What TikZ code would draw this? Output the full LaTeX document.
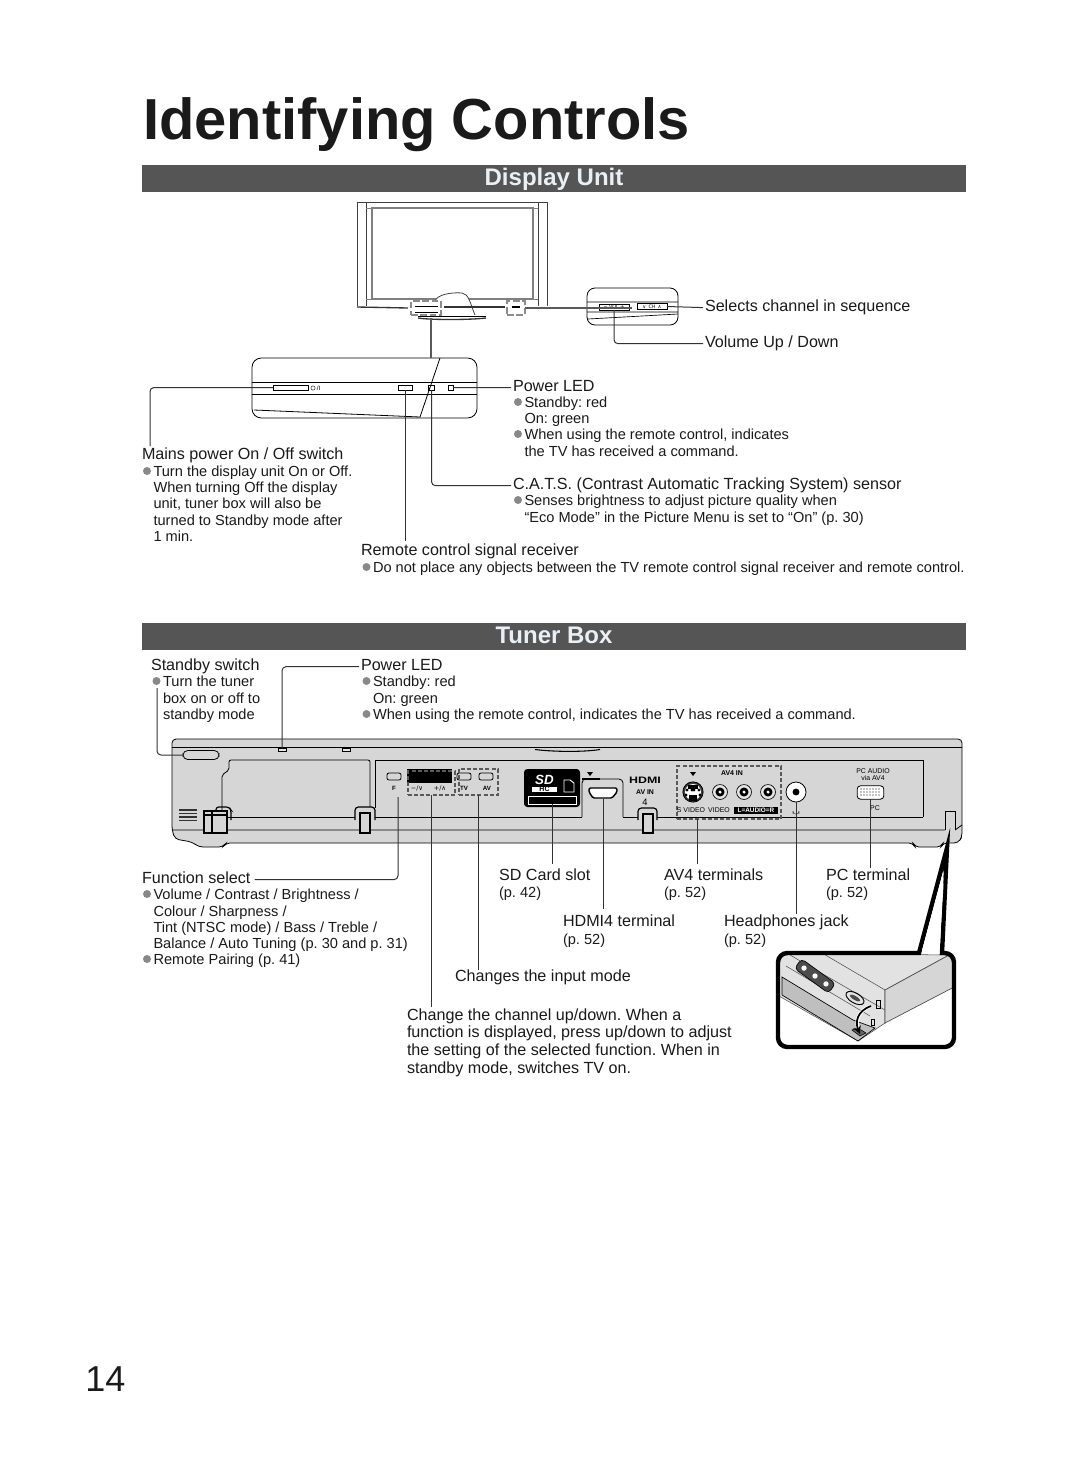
\documentclass[tikz,border=0pt]{standalone}
\usepackage{graphicx}
\usepackage{fontspec}
\setmainfont{Liberation Sans}
\newfontfamily\symfont{DejaVu Sans}
\usetikzlibrary{arrows.meta}
\definecolor{band}{HTML}{555555}
\definecolor{bandtxt}{HTML}{E8F0F6}
\definecolor{bulc}{HTML}{888888}
\definecolor{txt}{HTML}{1A1A1A}
\definecolor{linec}{HTML}{333333}
\definecolor{bodyc}{HTML}{D6D6D6}
\tikzset{
  lb/.style={anchor=base west,inner sep=0pt,outer sep=0pt,text=txt,text height=.75em,text depth=.25em,font=\fontsize{12.1}{14}\selectfont},
  sm/.style={anchor=base west,inner sep=0pt,outer sep=0pt,text=txt,font=\fontsize{10.95}{13}\selectfont},
  tiny/.style={inner sep=0pt,outer sep=0pt,text=black,font=\fontsize{4.6}{5}\selectfont},
  con/.style={draw=linec,line width=.75pt,rounded corners=3pt},
  part/.style={draw=black,line width=.6pt},
  clip part/.style={draw=black,line width=.9pt},
  ctl/.style={draw=black,line width=.6pt,inner sep=0pt,outer sep=0pt},
  dbox/.style={draw=black!65,line width=.9pt,dash pattern=on 3pt off 1.6pt,inner sep=0pt,outer sep=0pt},
  hl/.style={draw=black!45,line width=2pt,dash pattern=on 5pt off 2pt,inner sep=0pt,outer sep=0pt},
  heavy/.style={draw=black!65,line width=1.5pt},
  bandbox/.style={fill=band,draw=none,inner sep=0pt,outer sep=0pt,minimum width=618pt,minimum height=20.25pt},
  bandlab/.style={anchor=base,text=bandtxt,inner sep=0pt,font=\fontsize{18}{20}\selectfont\bfseries},
}
\newcommand\bu[2]{\fill[bulc] (#1-6.5,#2-5) circle (3pt);}
\newcommand\rca[2]{\filldraw[fill=white!90!black,draw=black,line width=.5pt] (#1,#2) circle (5.6pt);\filldraw[fill=black,draw=none] (#1,#2) circle (3.4pt);\fill[white] (#1,#2) circle (1.3pt);}
\begin{document}
\frenchspacing
\begin{tikzpicture}[x=0.75pt,y=-0.75pt]
\useasboundingbox (0,0) rectangle (1080,1478);
\fill[white] (0,0) rectangle (1080,1478);

\node[anchor=base west,inner sep=0pt,text=txt,font=\fontsize{43.4}{48}\selectfont\bfseries] (title) at (143,139) {Identifying Controls};
\node[bandbox] (band1) at (554,178.5) {};
\node[bandlab] (band1t) at (554,185.5) {Display Unit};
\node[bandbox] (band2) at (554,636.5) {};
\node[bandlab] (band2t) at (554,643.5) {Tuner Box};

% ---------- TV
\draw[part,draw=black!75] (357,306) -- (357,202) -- (547,202) -- (547,306);
\draw[part,draw=black!75] (366,306) -- (366,202) (538,306) -- (538,202);
\draw[draw=black!50,line width=.6pt] (366,208) -- (538,208);
\draw[draw=black!50,line width=1.4pt] (372,208) rectangle (533,299);
\draw[draw=black!50,line width=.5pt] (366,299) -- (538,299);
\draw[part,draw=black!75,fill=white] (435,301) .. controls (437,295) and (450,292) .. (462,293) .. controls (469,294) and (470,303) .. (475,315);
\draw[draw=black!80,line width=1pt] (357,307) -- (408,308);
\draw[draw=black!80,line width=1pt] (444,307) -- (505,307);
\draw[draw=black!80,line width=1pt,fill=white] (418,318) .. controls (430,320) and (470,320) .. (486,318);
\draw[draw=black,line width=.6pt] (418,316) -- (486,316);
\draw[draw=black,line width=.7pt] (415,306) -- (438,306) (415,312) -- (438,312);
\draw[draw=black,line width=1.5pt] (512,307) -- (520,307);
\node[hl,minimum width=22.5pt,minimum height=10.5pt] (hlleft) at (426,308) {};
\node[hl,minimum width=13.5pt,minimum height=10.5pt] (hlright) at (516,308) {};

% ---------- TV side zoom
\node[part,rounded corners=6pt,inner sep=0pt,outer sep=0pt,minimum width=68.25pt,minimum height=27.75pt] (sidebox) at (632.5,306.5) {};
\draw[draw=black,line width=.5pt] (587,302) -- (678,302) (587,312) -- (678,312) (588,319) -- (678,314);
\node[ctl,minimum width=22.5pt,minimum height=4.5pt] (volbox) at (614,307) {};
\node[ctl,minimum width=22.5pt,minimum height=4.5pt] (chbox) at (652,306.5) {};
\node[tiny,font=\fontsize{3.6}{4}\selectfont\symfont] (voltxt) at (614,307) {−\,\,VOL\,\,+};
\node[tiny,font=\fontsize{3.6}{4}\selectfont\symfont] (chtxt) at (652,306.5) {∨\,\,\,CH\,\,\,∧};
\draw[heavy] (hlright.east) -- (632,308);

% ---------- lower zoom
\node[part,rounded corners=7pt,inner sep=0pt,outer sep=0pt,minimum width=168.75pt,minimum height=45pt] (frontbox) at (364.5,388) {};
\draw[draw=black,line width=.5pt] (252,382) -- (477,382) (252,394) -- (477,394);
\draw[draw=black,line width=.6pt] (254,410) -- (420,417) -- (440,358);
\node[ctl,minimum width=26.25pt,minimum height=3.75pt] (pwrbtn) at (290.5,387.5) {};
\draw[black,line width=.3pt] (313,388) circle (1.6pt);
\node[tiny] (pwrtxt) at (318.5,388) {/I};
\node[ctl,minimum width=10.5pt,minimum height=3.75pt] (rcbox) at (405,387.5) {};
\node[ctl,minimum width=4.5pt,minimum height=3.75pt] (catsbox) at (431.5,387.5) {};
\node[ctl,minimum width=3.75pt,minimum height=3.75pt] (ledbox) at (450.5,387.5) {};
\draw[heavy] (431,318) -- (431,358);

% ---------- labels of the display unit
\node[lb] (lsel) at (705,311) {Selects channel in sequence};
\node[lb] (lvol) at (705,347) {Volume Up / Down};
\node[lb] (lled) at (513,391) {Power LED};
\bu{524.5}{407}
\node[sm] (s1) at (524.5,407) {Standby: red};
\node[sm] (s2) at (524.5,423) {On: green};
\bu{524.5}{439}
\node[sm] (s3) at (524.5,439) {When using the remote control, indicates};
\node[sm] (s4) at (524.5,456) {the TV has received a command.};
\node[lb] (lmains) at (142,459) {Mains power On / Off switch};
\bu{153.5}{476}
\node[sm] (m1) at (153.5,476) {Turn the display unit On or Off.};
\node[sm] (m2) at (153.5,492) {When turning Off the display};
\node[sm] (m3) at (153.5,508) {unit, tuner box will also be};
\node[sm] (m4) at (153.5,525) {turned to Standby mode after};
\node[sm] (m5) at (153.5,541) {1 min.};
\node[lb] (lcats) at (513,489) {C.A.T.S. (Contrast Automatic Tracking System) sensor};
\bu{524.5}{505}
\node[sm] (c1) at (524.5,505) {Senses brightness to adjust picture quality when};
\node[sm] (c2) at (524.5,522) {“Eco Mode” in the Picture Menu is set to “On” (p. 30)};
\node[lb] (lrc) at (361,555) {Remote control signal receiver};
\bu{373}{572}
\node[sm] (r1) at (373,572) {Do not place any objects between the TV remote control signal receiver and remote control.};

\draw[con,shorten >=1.5pt] (chbox.east) -- (lsel.west);
\draw[con,shorten >=1.5pt] (volbox.south) |- (lvol.west);
\draw[con,shorten >=1.5pt] (ledbox.east) -- (lled.west);
\draw[con,shorten >=1.5pt] (catsbox.south) |- (lcats.west);
\draw[con,shorten >=3pt] (rcbox.south) -- (rcbox.south |- lrc.north);
\coordinate (mainsup) at (150,446);
\draw[con] (pwrbtn.west) -| (mainsup);

% ---------- tuner box
\draw[part,fill=bodyc,rounded corners=3pt] (172,830) -- (172,739) -- (962,739) -- (962,837) -- (958,843) -- (943,843) -- (941,847) -- (915,847) -- (913,843) -- (226,843) -- (223,847) -- (199,847) -- (192,842) -- (175,839) -- cycle;
\draw[part] (172,747) -- (962,747);
\draw[part] (172,830) -- (945,830) (955,830) -- (962,825);
\draw[part] (945,830) -- (945,811) -- (955,811) -- (955,830);
\draw[part] (225,817) -- (355,817) (375,817) -- (582,817) (623,817) -- (638,817) (657,817) -- (923,817);
\draw[part,rounded corners=1.5pt] (222,817) -- (222,775) -- (229,770) -- (229,760) -- (370,760) -- (370,808);
\draw[part] (375,808) -- (375,760) -- (923,760) -- (923,817);
\node[part,fill=bodyc,rounded corners=3.5pt,inner sep=0pt,outer sep=0pt,minimum width=27pt,minimum height=6.75pt] (stbybtn) at (201,755) {};
\node[ctl,minimum width=6pt,minimum height=2.25pt,fill=bodyc!60] (tled) at (282,750) {};
\node[ctl,minimum width=6pt,minimum height=2.25pt,fill=bodyc!60] (tsens) at (346,750) {};
\draw[part,line width=.8pt] (535,749.5) .. controls (555,752) and (585,752) .. (600,749.5);
\foreach \v in {810,813.5,817,820.5} \draw[line width=.8pt,black!80] (179,\v) -- (197,\v);
% clips
\draw[clip part,rounded corners=2pt] (216,810) -- (216,807) -- (229,807) -- (231,810) -- (231,820);
\draw[clip part,fill=bodyc] (204,811) rectangle (227,833);
\draw[clip part] (212,811) -- (212,833);
\draw[clip part] (204,815) -- (227,815);
\draw[clip part,fill=bodyc,rounded corners=2.5pt] (355,820) -- (355,807) -- (375,807) -- (375,820);
\draw[clip part,fill=bodyc] (360,813) rectangle (370,833);
\draw[clip part,fill=bodyc,rounded corners=2.5pt] (638,820) -- (638,808) -- (657,808) -- (657,820);
\draw[clip part,fill=bodyc] (643,814) rectangle (653,833);
% buttons
\node[ctl,rounded corners=1.5pt,minimum width=10.5pt,minimum height=5.25pt] (fbtn) at (394,776.5) {};
\node[fill=black,inner sep=0pt,outer sep=0pt,minimum width=33.75pt,minimum height=10.5pt] (disp) at (429.5,776) {};
\node[ctl,rounded corners=1.5pt,minimum width=10.5pt,minimum height=5.25pt] (tvbtn) at (464,776.5) {};
\node[ctl,rounded corners=1.5pt,minimum width=10.5pt,minimum height=5.25pt] (avbtn) at (486,776.5) {};
\node[tiny,font=\fontsize{4.6}{5}\selectfont\bfseries] (ftxt) at (394,788) {F};
\node[tiny,font=\fontsize{4.8}{5}\selectfont\symfont] (mintxt) at (417,788.5) {−/∨};
\node[tiny,font=\fontsize{4.8}{5}\selectfont\symfont] (plustxt) at (440,788.5) {+/∧};
\node[tiny,font=\fontsize{4.6}{5}\selectfont\bfseries] (tvtxt) at (464,788.5) {TV};
\node[tiny,font=\fontsize{4.6}{5}\selectfont\bfseries] (avtxt) at (487,788.5) {AV};
\node[dbox,minimum width=35.25pt,minimum height=18pt] (dash1) at (431.5,783) {};
\node[dbox,minimum width=29.25pt,minimum height=19.5pt] (dash2) at (478.5,782) {};
% SD
\node[fill=black,rounded corners=2.5pt,inner sep=0pt,outer sep=0pt,minimum width=42pt,minimum height=28.5pt] (sdbox) at (552,788) {};
\node[inner sep=0pt,text=white,font=\fontsize{10}{10}\selectfont\bfseries\itshape] (sdlogo) at (544.5,780) {SD};
\node[fill=white,inner sep=0pt,outer sep=0pt,text=black,minimum width=19pt,minimum height=4.2pt,font=\fontsize{5.2}{5}\selectfont\bfseries] (hclogo) at (544.5,789.5) {HC};
\draw[white,line width=.7pt] (564,780) -- (564,792) -- (574,792) -- (574,783) -- (570,780) -- cycle;
\node[draw=white,line width=.7pt,fill=black,inner sep=0pt,outer sep=0pt,minimum width=36pt,minimum height=5.6pt] (sdslot) at (552,800.5) {};
% HDMI
\draw[part,fill=bodyc,rounded corners=3pt] (582,817) -- (582,779) -- (623,779) -- (623,817);
\draw[black,line width=1.2pt] (582,779) -- (600,779);
\fill[black] (587,772) -- (593,772) -- (590,776) -- cycle;
\coordinate (hdmip) at (603,799);
\draw[part,line width=1.1pt,fill=white,rounded corners=1pt] (589,788) -- (617,788) -- (617,792) -- (612,798) -- (593,798) -- (589,792) -- cycle;
\node[tiny,font=\fontsize{7}{7}\selectfont\bfseries] (hdmilogo) at (645,780) {\scalebox{1.33}[1]{HDMI}};
\node[tiny,font=\fontsize{5.2}{5}\selectfont\bfseries] (avin) at (645,792) {AV IN};
\node[tiny,font=\fontsize{7}{7}\selectfont] (avfour) at (645,802.5) {4};
% AV4
\node[dbox,minimum width=78pt,minimum height=39.75pt] (avbox) at (729,792.5) {};
\node[tiny,font=\fontsize{5.2}{5}\selectfont\bfseries] (avfourin) at (732,773.5) {AV4 IN};
\fill[black] (690,772) -- (696,772) -- (693,776) -- cycle;
\filldraw[fill=black!75,draw=black,line width=.6pt] (693,792) circle (7.6pt);
\fill[white] (693,792) circle (6pt);
\fill[black] (688,785) rectangle (698,789);
\fill[black] (689,795) rectangle (697,801);
\foreach \a/\b in {687/790,699/790,686/795,700/795,692/790,694/790} \fill[black] (\a,\b) circle (1.2pt);
\rca{720}{792}
\rca{744}{792}
\rca{768}{792}
\node[ctl,circle,fill=white,minimum size=15pt] (hpjack) at (796,792) {};
\fill[black] (796,792) circle (2.6pt);
\node[tiny,font=\fontsize{5.2}{5}\selectfont] (svid) at (691,810.5) {S VIDEO};
\node[tiny,font=\fontsize{5.2}{5}\selectfont] (vid) at (719,810.5) {VIDEO};
\node[tiny,fill=black,text=white,font=\fontsize{4.8}{5}\selectfont\bfseries,minimum width=33pt,minimum height=5.5pt] (aud) at (756,810.5) {L=AUDIO=R};
\draw[black!70,line width=.4pt] (793,811) arc (180:0:3 and 3.2) (793,811) -- (793,813.5) (799,811) -- (799,813.5);
\node[tiny,font=\fontsize{5.2}{5.5}\selectfont,align=center] (pcaudio) at (873,774.5) {PC AUDIO\\via AV4};
\node[part,fill=white,rounded corners=2.5pt,inner sep=0pt,outer sep=0pt,minimum width=20pt,minimum height=10pt] (vga) at (870.5,792.5) {};
\foreach \v in {789,792,795} \foreach \u in {861,864,867,870,873,876,879} \fill[black] (\u,\v) circle (.45pt);
\node[tiny,font=\fontsize{5.2}{5}\selectfont] (pctxt) at (875,808) {PC};

% ---------- labels of the tuner box
\node[lb] (lstby) at (151,670) {Standby switch};
\bu{163}{686}
\node[sm] (t1) at (163,686) {Turn the tuner};
\node[sm] (t2) at (163,703) {box on or off to};
\node[sm] (t3) at (163,719) {standby mode};
\node[lb] (lled2) at (361,670) {Power LED};
\bu{373}{686}
\node[sm] (p1) at (373,686) {Standby: red};
\node[sm] (p2) at (373,703) {On: green};
\bu{373}{719}
\node[sm] (p3) at (373,719) {When using the remote control, indicates the TV has received a command.};
\node[lb] (lfunc) at (142,883) {Function select};
\bu{153.5}{899}
\node[sm] (f1) at (153.5,899) {Volume / Contrast / Brightness /};
\node[sm] (f2) at (153.5,916) {Colour / Sharpness /};
\node[sm] (f3) at (153.5,932) {Tint (NTSC mode) / Bass / Treble /};
\node[sm] (f4) at (153.5,948) {Balance / Auto Tuning (p. 30 and p. 31)};
\bu{153.5}{964}
\node[sm] (f5) at (153.5,964) {Remote Pairing (p. 41)};
\node[lb] (lsd) at (499,880) {SD Card slot};
\node[sm] (lsdp) at (499,897) {(p. 42)};
\node[lb] (lav) at (664,880) {AV4 terminals};
\node[sm] (lavp) at (664,897) {(p. 52)};
\node[lb] (lpc) at (826,880) {PC terminal};
\node[sm] (lpcp) at (826,897) {(p. 52)};
\node[lb] (lhdmi) at (563,926) {HDMI4 terminal};
\node[sm] (lhdmip) at (563,944) {(p. 52)};
\node[lb] (lhp) at (724,926) {Headphones jack};
\node[sm] (lhpp) at (724,944) {(p. 52)};
\node[lb] (linput) at (455,981) {Changes the input mode};
\node[lb] (lch1) at (407,1020) {Change the channel up/down. When a};
\node[lb] (lch2) at (407,1037) {function is displayed, press up/down to adjust};
\node[lb] (lch3) at (407,1055) {the setting of the selected function. When in};
\node[lb] (lch4) at (407,1073) {standby mode, switches TV on.};
\node[anchor=base west,inner sep=0pt,text=txt,font=\fontsize{27}{30}\selectfont] (pageno) at (85,1391) {14};

% ---------- connectors of the tuner box
\coordinate (stbyup) at (157,688);
\draw[con] (stbyup) |- (stbybtn.west);
\draw[con,shorten >=1.5pt] (tled.north) |- (lled2.west);
\coordinate (fp) at (398,797);
\draw[con,shorten >=3pt] (fp) |- (lfunc.east);
\draw[con,shorten >=2pt] (dash1.south) -- (dash1.south |- lch1.north);
\draw[con,shorten >=1pt] (dash2.south) -- (dash2.south |- linput.north);
\draw[con,shorten >=4.5pt] (sdslot.south) -- (sdslot.south |- lsd.north);
\draw[con,shorten >=5pt] (hdmip) -- (hdmip |- lhdmi.north);
\coordinate (avp) at (697,819);
\draw[con,shorten >=4.5pt] (avp) -- (avp |- lav.north);
\draw[con,shorten >=1.5pt] (hpjack.south) -- (hpjack.south |- lhp.north);
\draw[con,shorten >=1.5pt] (vga.south) -- (vga.south |- lpc.north);

% ---------- callout illustration
\begin{scope}
\clip[rounded corners=6pt] (778,953) rectangle (954,1047);
\fill[white] (778,953) rectangle (954,1047);
\filldraw[fill=bodyc!70,draw=black!70,line width=.4pt] (779,953) -- (949,955) -- (885,990) -- (885,1023) -- (858,1041) -- (779,996) -- cycle;
\filldraw[fill=bodyc,draw=black!70,line width=.5pt] (885,990) -- (949,955) -- (956,958) -- (956,986) -- (885,1023) -- cycle;
\filldraw[fill=black!25,draw=black,line width=.5pt] (782,977) -- (782,995) -- (858,1041) -- (875,1028) -- (853,1020) -- cycle;
\draw[black!70,line width=.4pt] (790,955) -- (885,1010) (822,953) -- (885,990) (786,966) -- (870,1016);
\filldraw[fill=black!70,draw=black,line width=.5pt,rounded corners=3pt,rotate around={-36:(815,976)}] (794,970) rectangle (836,982);
\foreach \a in {804,815,826} \fill[white] (\a,{976+(\a-815)*.72}) circle (2pt);
\draw[black,line width=.7pt,rotate around={-30:(855,998)}] (855,998) ellipse (10 and 5);
\fill[black!70,rotate around={-30:(855,998)}] (855,998) ellipse (6 and 2);
\draw[black,line width=.5pt] (876,1000) -- (880,1000) -- (880,1008) -- (876,1008) -- cycle;
\draw[black,line width=.5pt] (871,1019) -- (874,1019) -- (874,1025) -- (871,1025) -- cycle;
\filldraw[fill=black!60,draw=black,line width=.4pt] (852,1030) -- (860,1036) -- (866,1033) -- (858,1028) -- cycle;
\draw[white,line width=2.6pt] (871,1006) .. controls (857,1011) and (855,1022) .. (859,1030);
\draw[black,line width=1.3pt,-{Stealth[length=6pt,width=6pt]}] (871,1006) .. controls (857,1011) and (855,1022) .. (860,1034);
\end{scope}
\coordinate (apex) at (947,848);
\draw[black,line width=3.3pt,line join=miter] (919,953) [rounded corners=7pt] -- (778,953) -- (778,1047) -- (954,1047) -- (954,953) [sharp corners] -- (942,953) -- (apex) -- cycle;
\fill[white] (922,950.5) -- (939.5,950.5) -- (943.5,885) -- (943,872) -- cycle;
\end{tikzpicture}
\end{document}
